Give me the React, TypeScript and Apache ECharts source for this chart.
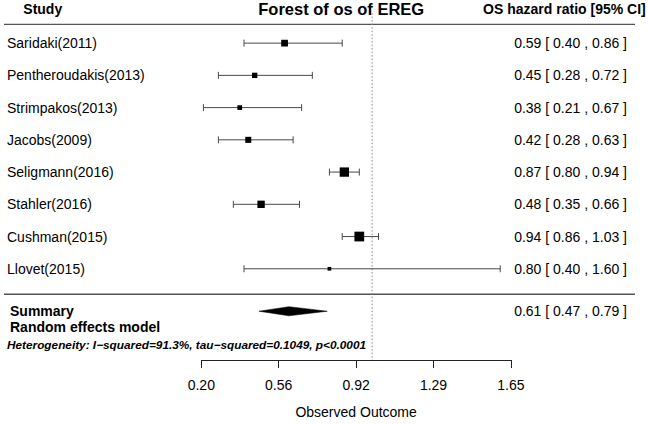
import React, { useEffect, useRef } from 'react';
import * as echarts from 'echarts';

// ---- data ----
const studies = [
  'Saridaki(2011)',
  'Pentheroudakis(2013)',
  'Strimpakos(2013)',
  'Jacobs(2009)',
  'Seligmann(2016)',
  'Stahler(2016)',
  'Cushman(2015)',
  'Llovet(2015)',
];
const hr = [0.59, 0.45, 0.38, 0.42, 0.87, 0.48, 0.94, 0.8];
const lower = [0.4, 0.28, 0.21, 0.28, 0.8, 0.35, 0.86, 0.4];
const upper = [0.86, 0.72, 0.67, 0.63, 0.94, 0.66, 1.03, 1.6];
// relative study weights (%)
const weights = [12.7, 10.1, 8.9, 11.4, 17.6, 13.9, 18.4, 7.0];
// summary (random effects model): estimate, lower, upper
const summaryValues = [0.61, 0.47, 0.79];
const tickLabels = ['0.20', '0.56', '0.92', '1.29', '1.65'];
const axisMin = 0.2;
const axisMax = 1.65;
const axisInterval = 0.3625;
const refValue = 1;

const title = 'Forest of os of EREG';
const studyHeader = 'Study';
const rightHeader = 'OS hazard ratio [95% CI]';
const summaryLabel1 = 'Summary';
const summaryLabel2 = 'Random effects model';
const heterogeneityText = 'Heterogeneity: I\u2212squared=91.3%, tau\u2212squared=0.1049, p<0.0001';
const xAxisName = 'Observed Outcome';

// ---- layout (row units along the hidden y axis) ----
const ROW_HEADER = -1.07;
const ROW_TOPLINE = -0.585;
const ROW_BOTTOMLINE = 7.79;
const ROW_SUMMARY = 8.317;
const ROW_SUMMARY2 = 8.82;
const ROW_HETERO = 9.35;
const ROW_REF_TOP = -0.93;
const Y_MIN = -1;
const Y_MAX = 9.83;

const FONT = '"Liberation Sans", Arial, Helvetica, sans-serif';
const fmt = (v: number) => v.toFixed(2);
const ciText = (e: number, l: number, u: number) => `${fmt(e)} [ ${fmt(l)} , ${fmt(u)} ]`;

const LEFT_X = 7;
const RIGHT_X = 627;

function buildOption(): any {
  const studyData = studies.map((_, i) => [hr[i], lower[i], upper[i], i, weights[i]]);

  const studyRender = (params: any, api: any) => {
    const idx = params.dataIndex;
    const e = api.value(0);
    const l = api.value(1);
    const u = api.value(2);
    const row = api.value(3);
    const w = api.value(4);
    const [xe, y] = api.coord([e, row]);
    const xl = api.coord([l, row])[0];
    const xu = api.coord([u, row])[0];
    const s = w * 0.53;
    const lineStyle = { stroke: '#4a4a4a', lineWidth: 1 };
    return {
      type: 'group',
      children: [
        { type: 'line', shape: { x1: xl, y1: y, x2: xu, y2: y }, style: lineStyle },
        { type: 'line', shape: { x1: xl, y1: y - 3.5, x2: xl, y2: y + 3.5 }, style: lineStyle },
        { type: 'line', shape: { x1: xu, y1: y - 3.5, x2: xu, y2: y + 3.5 }, style: lineStyle },
        { type: 'rect', shape: { x: xe - s / 2, y: y - s / 2, width: s, height: s }, style: { fill: '#000' } },
        {
          type: 'text', x: LEFT_X, y,
          style: { text: studies[idx], fontSize: 14, fontFamily: FONT, fill: '#000', align: 'left', verticalAlign: 'middle' },
        },
        {
          type: 'text', x: RIGHT_X, y,
          style: { text: ciText(e, l, u), fontSize: 14, fontFamily: FONT, fill: '#000', align: 'right', verticalAlign: 'middle' },
        },
      ],
    };
  };

  const summaryRender = (params: any, api: any) => {
    const e = api.value(0);
    const l = api.value(1);
    const u = api.value(2);
    const row = api.value(3);
    const [xe, y] = api.coord([e, row]);
    const xl = api.coord([l, row])[0];
    const xu = api.coord([u, row])[0];
    const y2 = api.coord([e, ROW_SUMMARY2])[1];
    const y3 = api.coord([e, ROW_HETERO])[1];
    const h = 4.6;
    return {
      type: 'group',
      children: [
        {
          type: 'polygon',
          shape: { points: [[xl, y], [xe, y - h], [xu, y], [xe, y + h]] },
          style: { fill: '#000', stroke: '#000', lineWidth: 0.5 },
        },
        {
          type: 'text', x: 10, y,
          style: { text: summaryLabel1, fontSize: 14, fontWeight: 'bold', fontFamily: FONT, fill: '#000', align: 'left', verticalAlign: 'middle' },
        },
        {
          type: 'text', x: 10, y: y2,
          style: { text: summaryLabel2, fontSize: 14, fontWeight: 'bold', fontFamily: FONT, fill: '#000', align: 'left', verticalAlign: 'middle' },
        },
        {
          type: 'text', x: 7, y: y3,
          style: { text: heterogeneityText, fontSize: 11.8, fontWeight: 'bold', fontStyle: 'italic', fontFamily: FONT, fill: '#000', align: 'left', verticalAlign: 'middle' },
        },
        {
          type: 'text', x: RIGHT_X, y,
          style: { text: ciText(e, l, u), fontSize: 14, fontFamily: FONT, fill: '#000', align: 'right', verticalAlign: 'middle' },
        },
      ],
    };
  };

  const decoRender = (params: any, api: any) => {
    const yHead = api.coord([refValue, ROW_HEADER])[1];
    const yTop = api.coord([refValue, ROW_TOPLINE])[1];
    const yBot = api.coord([refValue, ROW_BOTTOMLINE])[1];
    const [xRef, yRefTop] = api.coord([refValue, ROW_REF_TOP]);
    const yRefBot = api.coord([refValue, Y_MAX])[1];
    const sep = { stroke: '#555', lineWidth: 1.3 };
    return {
      type: 'group',
      children: [
        { type: 'line', shape: { x1: 4, y1: yTop, x2: 635, y2: yTop }, style: sep },
        { type: 'line', shape: { x1: 4, y1: yBot, x2: 635, y2: yBot }, style: sep },
        {
          type: 'line', shape: { x1: xRef, y1: yRefTop, x2: xRef, y2: yRefBot },
          style: { stroke: '#888', lineWidth: 1, lineDash: [1.5, 2] },
        },
        {
          type: 'text', x: 23.3, y: yHead,
          style: { text: studyHeader, fontSize: 14, fontWeight: 'bold', fontFamily: FONT, fill: '#000', align: 'left', verticalAlign: 'middle' },
        },
        {
          type: 'text', x: 341.2, y: yHead,
          style: { text: title, fontSize: 16.5, fontWeight: 'bold', fontFamily: FONT, fill: '#000', align: 'center', verticalAlign: 'middle' },
        },
        {
          type: 'text', x: 645.7, y: yHead,
          style: { text: rightHeader, fontSize: 14, fontWeight: 'bold', fontFamily: FONT, fill: '#000', align: 'right', verticalAlign: 'middle' },
        },
      ],
    };
  };

  return {
    animation: false,
    backgroundColor: '#fff',
    grid: { left: 201.3, top: 10.9, width: 309.6, height: 350.9, containLabel: false },
    xAxis: {
      type: 'value',
      min: axisMin,
      max: axisMax,
      interval: axisInterval,
      splitLine: { show: false },
      axisLine: { show: true, onZero: false, lineStyle: { color: '#222', width: 1 } },
      axisTick: { show: true, length: 8, inside: false, lineStyle: { color: '#222', width: 1 } },
      axisLabel: {
        fontSize: 14,
        fontFamily: FONT,
        color: '#000',
        margin: 18,
        formatter: (v: number) => tickLabels[Math.round((v - axisMin) / axisInterval)] ?? '',
      },
      name: xAxisName,
      nameLocation: 'middle',
      nameGap: 45,
      nameTextStyle: { fontSize: 14, fontFamily: FONT, color: '#000' },
    },
    yAxis: { type: 'value', min: Y_MIN, max: Y_MAX, inverse: true, show: false },
    series: [
      { type: 'custom', name: 'deco', data: [[refValue, 0]], renderItem: decoRender, clip: false, silent: true },
      { type: 'custom', name: 'studies', data: studyData, renderItem: studyRender, clip: false },
      {
        type: 'custom', name: 'summary',
        data: [[summaryValues[0], summaryValues[1], summaryValues[2], ROW_SUMMARY]],
        renderItem: summaryRender, clip: false,
      },
    ],
  };
}

export default function App() {
  const ref = useRef<HTMLDivElement>(null);
  useEffect(() => {
    if (!ref.current) return;
    const chart = echarts.init(ref.current, null, { renderer: 'svg' });
    chart.setOption(buildOption());
    return () => chart.dispose();
  }, []);
  return (
    <div
      ref={ref}
      style={{ position: 'fixed', left: 0, top: 0, width: 648, height: 424, background: '#fff' }}
    />
  );
}
